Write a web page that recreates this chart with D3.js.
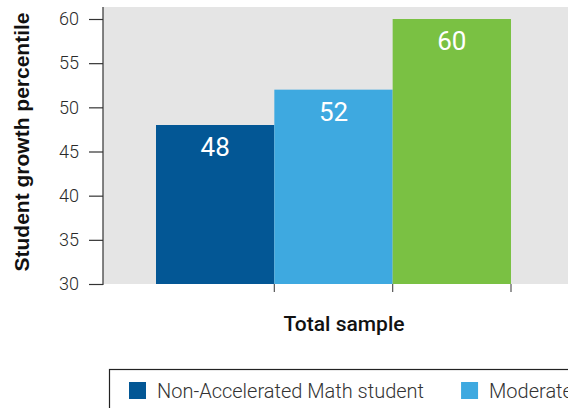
<!DOCTYPE html>
<html>
<head>
<meta charset="utf-8">
<script src="https://cdn.jsdelivr.net/npm/d3@7/dist/d3.min.js"></script>
<style>
  html, body { margin: 0; padding: 0; background: #fff; overflow: hidden; }
  svg { display: block; }
</style>
</head>
<body>
<svg id="chart" width="568" height="408"></svg>
<script>
// Student growth percentile by acceleration group, total sample
const groupLabel = "Total sample";
const seriesNames = [
  "Non-Accelerated Math student",
  "Moderately Accelerated Math student",
  "Highly Accelerated Math student"
];
const seriesValues = [48, 52, 60];
const seriesColors = ["#035795", "#3ea9e0", "#7ac143"];
const yTicks = [30, 35, 40, 45, 50, 55, 60];
const yTitle = "Student growth percentile";

const svg = d3.select("#chart");

const plot = { left: 103, top: 7, right: 600, bottom: 284 };

const y = d3.scaleLinear().domain([30, 60]).range([284, 19]);
const x = d3.scaleBand().domain(seriesNames).range([156, 511]).padding(0);

// plot background
svg.append("rect")
  .attr("x", plot.left).attr("y", plot.top)
  .attr("width", plot.right - plot.left).attr("height", plot.bottom - plot.top)
  .attr("fill", "#e5e5e5");

// bars
svg.append("g").selectAll("rect")
  .data(seriesNames.map((s, i) => ({ name: s, value: seriesValues[i], color: seriesColors[i] })))
  .join("rect")
  .attr("x", d => x(d.name))
  .attr("y", d => y(d.value))
  .attr("width", x.bandwidth())
  .attr("height", d => y(30) - y(d.value))
  .attr("fill", d => d.color);

// value labels
svg.append("g").selectAll("text")
  .data(seriesNames.map((s, i) => ({ name: s, value: seriesValues[i] })))
  .join("text")
  .attr("x", d => x(d.name) + x.bandwidth() / 2)
  .attr("y", d => y(d.value) + 31)
  .attr("text-anchor", "middle")
  .attr("font-family", "Roboto, sans-serif")
  .attr("font-size", 26)
  .attr("fill", "#ffffff")
  .text(d => d.value);

// y axis
const yAxis = d3.axisLeft(y).tickValues(yTicks).tickSize(14).tickPadding(10).tickSizeOuter(0);
const gy = svg.append("g").attr("transform", `translate(${plot.left},0)`).call(yAxis);
gy.select(".domain").remove();
gy.selectAll(".tick line").attr("stroke", "#333").attr("stroke-width", 1.2);
gy.selectAll(".tick text")
  .attr("font-family", "Roboto, sans-serif")
  .attr("font-weight", 300)
  .attr("font-size", 18)
  .attr("fill", "#2a2a2a");
svg.append("line")
  .attr("x1", plot.left).attr("x2", plot.left)
  .attr("y1", plot.top).attr("y2", plot.bottom + 1)
  .attr("stroke", "#333").attr("stroke-width", 1.2);

// x axis ticks at band edges
svg.append("g").selectAll("line")
  .data(seriesNames)
  .join("line")
  .attr("x1", d => x(d) + x.bandwidth())
  .attr("x2", d => x(d) + x.bandwidth())
  .attr("y1", plot.bottom)
  .attr("y2", plot.bottom + 8)
  .attr("stroke", "#555").attr("stroke-width", 1.2);

// axis titles
svg.append("text")
  .attr("transform", "translate(29,142) rotate(-90)")
  .attr("text-anchor", "middle")
  .attr("font-family", "'Liberation Sans', Arial, sans-serif")
  .attr("font-weight", "bold")
  .attr("font-size", 21)
  .attr("fill", "#111")
  .text(yTitle);

svg.append("text")
  .attr("x", 344).attr("y", 331)
  .attr("text-anchor", "middle")
  .attr("font-family", "Roboto, sans-serif")
  .attr("font-weight", 500)
  .attr("font-size", 21)
  .attr("fill", "#111")
  .text(groupLabel);

// legend
const legend = svg.append("g");
legend.append("rect")
  .attr("x", 109.5).attr("y", 369.5)
  .attr("width", 1200).attr("height", 80)
  .attr("fill", "none").attr("stroke", "#222").attr("stroke-width", 1.2);

let lx = 129;
seriesNames.forEach((name, i) => {
  legend.append("rect")
    .attr("x", lx).attr("y", 382)
    .attr("width", 17).attr("height", 17)
    .attr("fill", seriesColors[i]);
  const t = legend.append("text")
    .attr("x", lx + 28).attr("y", 397.5)
    .attr("font-family", "Roboto, sans-serif")
    .attr("font-weight", 300)
    .attr("font-size", 20)
    .attr("fill", "#333")
    .text(name);
  lx = lx + 28 + t.node().getComputedTextLength() + 37;
});
</script>
</body>
</html>
